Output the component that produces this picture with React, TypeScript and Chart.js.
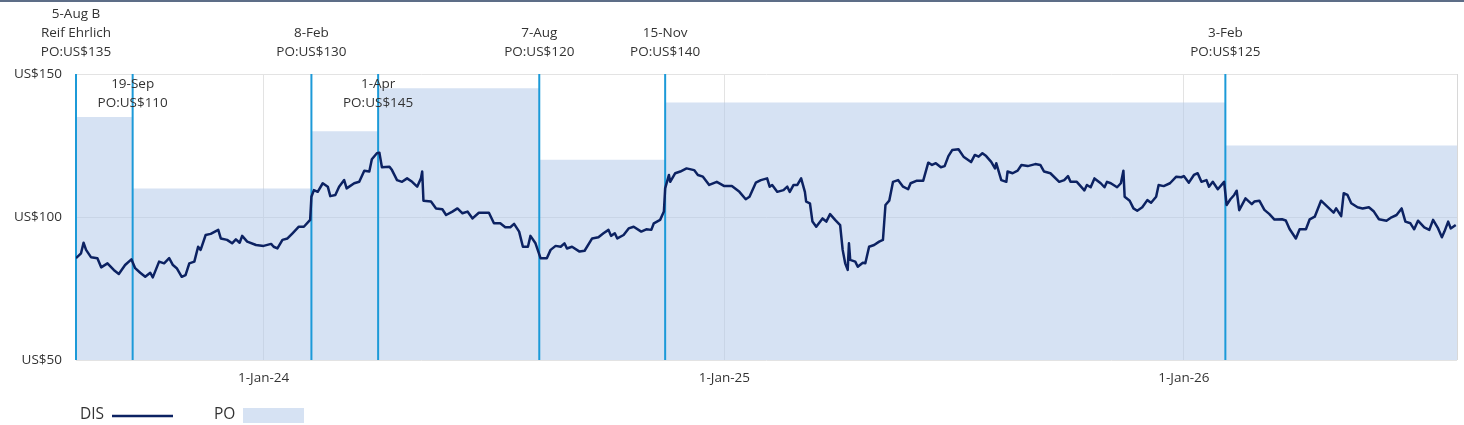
import React, { useEffect, useRef } from "react";
import { Chart, registerables } from "chart.js";

Chart.register(...registerables);

// ---------- data ----------
const axisStart = "2023-08-05";
const axisEnd = "2026-08-06";
const xTickDates = ["2024-01-01", "2025-01-01", "2026-01-01"];
const yTicks = [50, 100, 150];

const poDates = ["2023-08-05", "2023-09-19", "2024-02-08", "2024-04-01", "2024-08-07", "2024-11-15", "2026-02-03"];
const poValues = [135, 110, 130, 145, 120, 140, 125];
const poLabels = [
  ["5-Aug B", "Reif Ehrlich", "PO:US$135"],
  ["19-Sep", "PO:US$110"],
  ["8-Feb", "PO:US$130"],
  ["1-Apr", "PO:US$145"],
  ["7-Aug", "PO:US$120"],
  ["15-Nov", "PO:US$140"],
  ["3-Feb", "PO:US$125"],
];

const disDates = [
  "2023-08-05","2023-08-09","2023-08-11","2023-08-13","2023-08-17","2023-08-22","2023-08-25","2023-08-30",
  "2023-09-04","2023-09-08","2023-09-13","2023-09-18","2023-09-21","2023-09-25","2023-09-29","2023-10-03",
  "2023-10-05","2023-10-10","2023-10-14","2023-10-18","2023-10-21","2023-10-24","2023-10-28","2023-10-31",
  "2023-11-03","2023-11-07","2023-11-10","2023-11-12","2023-11-16","2023-11-20","2023-11-26","2023-11-28",
  "2023-12-03","2023-12-07","2023-12-10","2023-12-13","2023-12-15","2023-12-19","2023-12-26","2024-01-01",
  "2024-01-07","2024-01-09","2024-01-12","2024-01-16","2024-01-20","2024-01-24","2024-01-29","2024-02-02",
  "2024-02-07","2024-02-08","2024-02-10","2024-02-13","2024-02-17","2024-02-21","2024-02-23","2024-02-27",
  "2024-03-01","2024-03-05","2024-03-07","2024-03-13","2024-03-17","2024-03-21","2024-03-25","2024-03-27",
  "2024-03-31","2024-04-02","2024-04-04","2024-04-10","2024-04-12","2024-04-16","2024-04-20","2024-04-24",
  "2024-04-28","2024-05-02","2024-05-05","2024-05-06","2024-05-07","2024-05-13","2024-05-17","2024-05-22",
  "2024-05-25","2024-05-30","2024-06-03","2024-06-07","2024-06-11","2024-06-15","2024-06-20","2024-06-28",
  "2024-07-02","2024-07-07","2024-07-11","2024-07-15","2024-07-18","2024-07-22","2024-07-25","2024-07-29",
  "2024-07-31","2024-08-04","2024-08-08","2024-08-13","2024-08-16","2024-08-20","2024-08-24","2024-08-27",
  "2024-08-29","2024-09-02","2024-09-08","2024-09-12","2024-09-18","2024-09-23","2024-09-27","2024-10-01",
  "2024-10-03","2024-10-06","2024-10-08","2024-10-13","2024-10-17","2024-10-21","2024-10-27","2024-10-31",
  "2024-11-04","2024-11-06","2024-11-11","2024-11-14","2024-11-15","2024-11-18","2024-11-19","2024-11-23",
  "2024-11-27","2024-12-02","2024-12-08","2024-12-11","2024-12-15","2024-12-20","2024-12-26","2025-01-01",
  "2025-01-07","2025-01-13","2025-01-18","2025-01-21","2025-01-26","2025-01-30","2025-02-04","2025-02-06",
  "2025-02-08","2025-02-12","2025-02-17","2025-02-20","2025-02-22","2025-02-25","2025-02-28","2025-03-03",
  "2025-03-06","2025-03-07","2025-03-10","2025-03-12","2025-03-15","2025-03-20","2025-03-23","2025-03-26",
  "2025-03-30","2025-04-03","2025-04-05","2025-04-07","2025-04-09","2025-04-10","2025-04-11","2025-04-15",
  "2025-04-17","2025-04-21","2025-04-23","2025-04-26","2025-04-30","2025-05-04","2025-05-07","2025-05-09",
  "2025-05-12","2025-05-15","2025-05-19","2025-05-23","2025-05-27","2025-05-29","2025-06-03","2025-06-08",
  "2025-06-12","2025-06-15","2025-06-18","2025-06-22","2025-06-25","2025-06-28","2025-07-01","2025-07-06",
  "2025-07-10","2025-07-16","2025-07-19","2025-07-22","2025-07-25","2025-07-28","2025-08-01","2025-08-04",
  "2025-08-05","2025-08-09","2025-08-13","2025-08-14","2025-08-18","2025-08-22","2025-08-25","2025-08-30",
  "2025-09-05","2025-09-09","2025-09-12","2025-09-17","2025-09-24","2025-09-28","2025-10-01","2025-10-03",
  "2025-10-08","2025-10-14","2025-10-16","2025-10-19","2025-10-22","2025-10-27","2025-10-30","2025-11-01",
  "2025-11-04","2025-11-09","2025-11-12","2025-11-14","2025-11-15","2025-11-19","2025-11-22","2025-11-25",
  "2025-11-29","2025-12-03","2025-12-06","2025-12-10","2025-12-12","2025-12-16","2025-12-21","2025-12-26",
  "2025-12-30","2026-01-01","2026-01-05","2026-01-09","2026-01-12","2026-01-15","2026-01-19","2026-01-21",
  "2026-01-24","2026-01-28","2026-02-02","2026-02-04","2026-02-07","2026-02-10","2026-02-12","2026-02-14",
  "2026-02-19","2026-02-24","2026-02-26","2026-03-02","2026-03-06","2026-03-10","2026-03-14","2026-03-20",
  "2026-03-23","2026-03-26","2026-03-31","2026-04-03","2026-04-08","2026-04-11","2026-04-15","2026-04-20",
  "2026-04-25","2026-04-30","2026-05-02","2026-05-06","2026-05-08","2026-05-11","2026-05-14","2026-05-19",
  "2026-05-23","2026-05-28","2026-06-01","2026-06-05","2026-06-11","2026-06-15","2026-06-19","2026-06-23",
  "2026-06-26","2026-06-30","2026-07-03","2026-07-06","2026-07-11","2026-07-15","2026-07-18","2026-07-22",
  "2026-07-25","2026-07-27","2026-07-30","2026-08-01","2026-08-05",
];
const disValues = [
  85.6, 87.3, 91.0, 88.5, 85.9, 85.6, 82.4, 83.8,
  81.5, 80.1, 83.2, 85.2, 82.1, 80.5, 79.1, 80.5,
  78.9, 84.4, 83.8, 85.6, 83.2, 82.1, 79.1, 79.7,
  83.8, 84.4, 89.6, 88.5, 93.7, 94.1, 95.5, 92.5,
  92.0, 90.8, 92.2, 91.0, 93.4, 91.4, 90.2, 89.9,
  90.6, 89.6, 89.0, 92.0, 92.5, 94.3, 96.6, 96.6,
  99.0, 107.1, 109.4, 108.8, 111.8, 110.6, 107.3, 107.7,
  110.6, 112.9, 110.0, 111.8, 112.3, 116.2, 115.9, 120.2,
  122.3, 122.5, 117.4, 117.6, 116.4, 112.9, 112.3, 113.5,
  112.3, 110.6, 113.5, 115.9, 105.7, 105.4, 103.0, 102.7,
  100.7, 101.9, 103.0, 101.3, 101.9, 99.5, 101.5, 101.5,
  97.8, 97.8, 96.4, 96.4, 97.6, 94.9, 89.6, 89.6,
  93.4, 90.8, 85.6, 85.6, 88.5, 89.9, 89.6, 90.8,
  89.0, 89.6, 87.9, 88.2, 92.5, 92.9, 94.3, 95.5,
  93.4, 94.3, 92.5, 93.7, 96.0, 96.6, 94.9, 95.7,
  95.5, 97.8, 99.0, 101.9, 110.0, 114.7, 112.3, 115.3,
  115.9, 117.0, 116.4, 114.7, 114.1, 111.2, 112.3, 110.8,
  110.8, 108.8, 106.2, 107.1, 112.0, 112.9, 113.5, 110.6,
  111.2, 108.8, 109.4, 110.6, 108.8, 111.2, 111.2, 113.5,
  108.8, 105.4, 104.8, 98.4, 96.6, 99.5, 98.4, 101.0,
  99.0, 97.2, 88.5, 83.8, 81.5, 90.8, 85.0, 84.4,
  82.6, 84.0, 83.8, 89.6, 90.2, 91.4, 92.0, 104.2,
  105.7, 112.3, 112.9, 110.6, 109.7, 111.8, 112.7, 112.7,
  119.0, 118.2, 118.8, 117.4, 117.8, 121.3, 123.4, 123.7,
  121.1, 119.2, 121.7, 121.1, 122.3, 121.3, 119.3, 117.0,
  118.8, 112.9, 112.3, 115.9, 115.3, 116.2, 118.2, 117.8,
  118.5, 118.2, 115.9, 115.3, 112.3, 112.9, 114.3, 112.3,
  112.3, 109.3, 111.2, 110.4, 113.5, 111.8, 110.4, 112.3,
  111.8, 110.4, 111.8, 116.2, 107.1, 105.7, 103.0, 102.2,
  103.4, 105.9, 105.0, 107.1, 111.2, 110.8, 111.8, 114.1,
  113.9, 114.3, 112.0, 114.7, 115.3, 112.3, 112.9, 110.6,
  112.3, 109.7, 112.3, 104.2, 106.2, 107.7, 109.2, 102.4,
  106.5, 104.5, 105.4, 105.7, 102.5, 101.0, 99.1, 99.2,
  98.8, 95.8, 92.5, 95.7, 95.7, 99.2, 100.1, 105.7,
  103.6, 101.5, 103.0, 100.3, 108.3, 107.7, 104.8, 103.4,
  103.0, 103.4, 101.9, 99.2, 98.7, 99.9, 100.7, 103.0,
  98.4, 97.8, 95.7, 98.7, 96.4, 95.5, 99.0, 96.0,
  92.9, 94.9, 98.4, 96.0, 97.2,
];

// ---------- helpers / styles ----------
const MONTHS = ["Jan","Feb","Mar","Apr","May","Jun","Jul","Aug","Sep","Oct","Nov","Dec"];
const toDay = (s: string) => {
  const [y, m, d] = s.split("-").map(Number);
  return Date.UTC(y, m - 1, d) / 86400000;
};
const fmtDay = (v: number) => {
  const dt = new Date(v * 86400000);
  return `${dt.getUTCDate()}-${MONTHS[dt.getUTCMonth()]}-${String(dt.getUTCFullYear()).slice(2)}`;
};

const FONT = "'Open Sans', 'Noto Sans', sans-serif";
const DIS_COLOR = "#0c2262";
const PO_FILL = "rgba(180,202,234,0.55)";
const PO_FILL_SOLID = "#d6e2f3";
const MARKER_COLOR = "#1c9ad8";
const TEXT_COLOR = "#333333";
const GRID_COLOR = "#e3e3e3";

const poPlugin = {
  id: "poMarkers",
  afterDatasetDraw(chart: any, args: any) {
    if (args.index !== 1) return;
    const { ctx, chartArea } = chart;
    const xs = chart.scales.x;
    ctx.save();
    ctx.strokeStyle = MARKER_COLOR;
    ctx.lineWidth = 2;
    poDates.forEach((d) => {
      const x = xs.getPixelForValue(toDay(d));
      ctx.beginPath();
      ctx.moveTo(x, chartArea.top);
      ctx.lineTo(x, chartArea.bottom);
      ctx.stroke();
    });
    ctx.restore();
  },
  afterDraw(chart: any) {
    const { ctx, chartArea } = chart;
    const xs = chart.scales.x;
    ctx.save();
    // right border
    ctx.strokeStyle = "#d8d8d8";
    ctx.lineWidth = 1;
    ctx.beginPath();
    ctx.moveTo(chartArea.right + 0.5, chartArea.top);
    ctx.lineTo(chartArea.right + 0.5, chartArea.bottom);
    ctx.stroke();

    // marker labels
    ctx.fillStyle = TEXT_COLOR;
    ctx.font = `13.5px ${FONT}`;
    ctx.textAlign = "center";
    ctx.textBaseline = "middle";
    const lh = 19;
    let lastHigh = -1e9;
    poDates.forEach((d, i) => {
      const x = xs.getPixelForValue(toDay(d));
      const lines = poLabels[i];
      const low = x - lastHigh < 100;
      if (!low) lastHigh = x;
      lines.forEach((t, j) => {
        const y = low
          ? chartArea.top + 10 + j * lh
          : chartArea.top - 21.5 - (lines.length - 1 - j) * lh;
        ctx.fillText(t, x, y);
      });
    });

    // legend
    const ly = 415;
    ctx.textAlign = "left";
    ctx.font = `15.5px ${FONT}`;
    ctx.fillText("DIS", 80, ly);
    ctx.strokeStyle = DIS_COLOR;
    ctx.lineWidth = 2.5;
    ctx.beginPath();
    ctx.moveTo(112, ly + 1);
    ctx.lineTo(173, ly + 1);
    ctx.stroke();
    ctx.fillStyle = TEXT_COLOR;
    ctx.fillText("PO", 214, ly);
    ctx.fillStyle = PO_FILL_SOLID;
    ctx.fillRect(243, 408, 61, 15);
    ctx.restore();
  },
};

export default function App() {
  const ref = useRef<HTMLCanvasElement | null>(null);

  useEffect(() => {
    document.body.style.margin = "0";
    if (!ref.current) return;
    Chart.defaults.font.family = FONT;
    const xMin = toDay(axisStart);
    const xMax = toDay(axisEnd);
    const disData = disDates.map((d, i) => ({ x: toDay(d), y: disValues[i] }));
    const poData = poDates.map((d, i) => ({ x: toDay(d), y: poValues[i] }));
    poData.push({ x: xMax, y: poValues[poValues.length - 1] });

    const chart = new Chart(ref.current, {
      type: "line",
      data: {
        datasets: [
          {
            label: "DIS",
            data: disData,
            borderColor: DIS_COLOR,
            borderWidth: 2.5,
            borderJoinStyle: "round",
            pointRadius: 0,
            tension: 0,
            fill: false,
          },
          {
            label: "PO",
            data: poData,
            borderWidth: 0,
            borderColor: "rgba(0,0,0,0)",
            backgroundColor: PO_FILL,
            pointRadius: 0,
            stepped: "before",
            fill: "start",
          },
        ],
      },
      options: {
        animation: false,
        responsive: false,
        devicePixelRatio: 1,
        layout: { padding: { top: 74, right: 7, left: 0, bottom: 0 } },
        plugins: {
          legend: { display: false },
          tooltip: { enabled: false },
          title: { display: false },
        },
        scales: {
          x: {
            type: "linear",
            min: xMin,
            max: xMax,
            afterBuildTicks: (scale: any) => {
              scale.ticks = xTickDates.map((d) => ({ value: toDay(d) }));
            },
            afterFit: (scale: any) => {
              scale.height = 65;
            },
            ticks: {
              callback: (v: any) => fmtDay(Number(v)),
              color: TEXT_COLOR,
              font: { size: 13.5, family: FONT },
              padding: 10,
              maxRotation: 0,
              autoSkip: false,
            },
            grid: { color: GRID_COLOR, drawTicks: false },
            border: { display: false },
          },
          y: {
            min: 50,
            max: 150,
            afterBuildTicks: (scale: any) => {
              scale.ticks = yTicks.map((v) => ({ value: v }));
            },
            afterFit: (scale: any) => {
              scale.width = 76;
            },
            ticks: {
              callback: (v: any) => "US$" + v,
              color: TEXT_COLOR,
              font: { size: 13.5, family: FONT },
              padding: 14,
            },
            grid: { color: GRID_COLOR, drawTicks: false },
            border: { display: false },
          },
        },
      },
      plugins: [poPlugin],
    });
    return () => chart.destroy();
  }, []);

  return (
    <div style={{ position: "relative", width: 1464, height: 425, background: "#fff", overflow: "hidden" }}>
      <canvas ref={ref} width={1464} height={425} style={{ display: "block", width: 1464, height: 425 }} />
      <div style={{ position: "absolute", left: 0, top: 0, width: 1464, height: 2, background: "#5d6d87" }} />
    </div>
  );
}
